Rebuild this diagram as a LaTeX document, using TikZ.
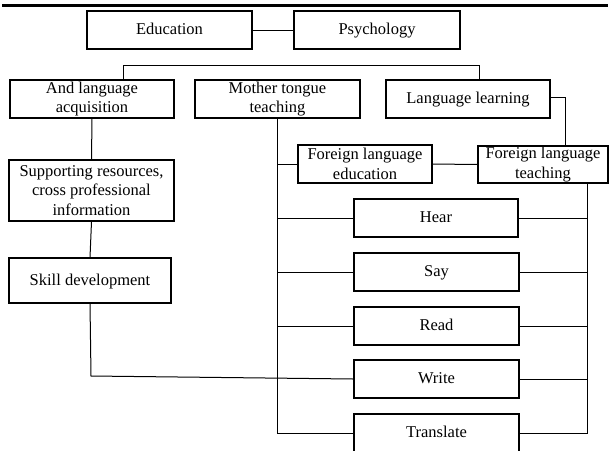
\documentclass[tikz,border=0pt]{standalone}
\usepackage{fontspec}
\setmainfont{Liberation Serif}
\begin{document}
\begin{tikzpicture}[x=1pt,y=-1pt,
  box/.style={draw=black, line width=1.1pt, inner sep=0pt, align=center,
    font=\fontsize{16.5}{19.5}\selectfont},
  one/.style={box, text height=12.5pt, text depth=3.5pt},
  conn/.style={draw=black, line width=1pt}]
\clip (0,0) rectangle (609,450);
\draw[line width=3pt] (2,5.5) -- (608,5.5);
% boxes
\node[one, minimum width=165pt, minimum height=38pt] (edu) at (169.5,30) {Education};
\node[one, minimum width=166pt, minimum height=38pt] (psy) at (377,30) {Psychology};
\node[box, minimum width=164pt, minimum height=38pt] (and) at (92,99) {And language\\acquisition};
\node[box, minimum width=165pt, minimum height=38pt] (mot) at (277.5,99) {Mother tongue\\teaching};
\node[one, minimum width=164pt, minimum height=38pt] (ll) at (468,99) {Language learning};
\node[box, minimum width=165pt, minimum height=61pt] (sup) at (91.5,190.5) {Supporting resources,\\cross professional\\information};
\node[one, minimum width=162pt, minimum height=45pt] (skill) at (90,280.5) {Skill development};
\node[box, minimum width=134pt, minimum height=38pt] (fle) at (365,164) {Foreign language\\education};
\node[box, minimum width=130pt, minimum height=37pt] (flt) at (543,164.5) {Foreign language\\teaching};
\node[one, minimum width=164pt, minimum height=38pt] (hear) at (436,218) {Hear};
\node[one, minimum width=165pt, minimum height=38pt] (say) at (436.5,272) {Say};
\node[one, minimum width=165pt, minimum height=38pt] (read) at (436.5,326) {Read};
\node[one, minimum width=165pt, minimum height=38pt] (write) at (436.5,379) {Write};
\node[one, minimum width=165pt, minimum height=38pt] (translate) at (436.5,433) {Translate};
% coordinates
\coordinate (tl) at (123,65);
\coordinate (tr) at (479,65);
\coordinate (sk) at (91,376);
\coordinate (lc) at (565,97);
\coordinate (fx) at (587,0);
% connectors
\draw[conn] (edu.east) -- (psy.west);
\draw[conn] (tl |- and.north) -- (tl) -- (tr) -- (tr |- ll.north);
\draw[conn] (and.south) -- (sup.north);
\draw[conn] (sup.south) -- (skill.north);
\draw[conn] (skill.south) -- (sk) -- (write.west);
\draw[conn] (mot.south) -- (mot.south |- translate.west) -- (translate.west);
\draw[conn] (mot.south |- fle.west) -- (fle.west);
\draw[conn] (mot.south |- hear.west) -- (hear.west);
\draw[conn] (mot.south |- say.west) -- (say.west);
\draw[conn] (mot.south |- read.west) -- (read.west);
\draw[conn] (ll.east |- lc) -- (lc) -- (lc |- flt.north);
\draw[conn] (fle.east) -- (flt.west);
\draw[conn] (fx |- flt.south) -- (fx |- translate.east) -- (translate.east);
\draw[conn] (hear.east) -- (hear.east -| fx);
\draw[conn] (say.east) -- (say.east -| fx);
\draw[conn] (read.east) -- (read.east -| fx);
\draw[conn] (write.east) -- (write.east -| fx);
\end{tikzpicture}
\end{document}
